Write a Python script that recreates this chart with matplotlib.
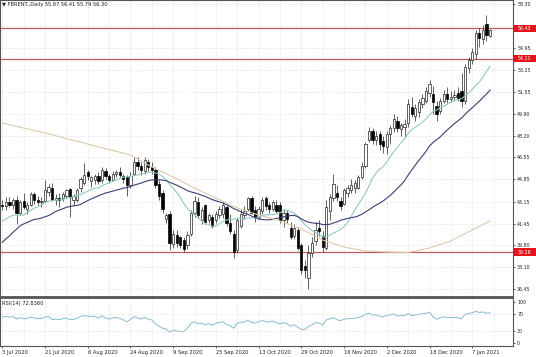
"""FBRENT daily candles with moving averages, support/resistance levels and RSI(14)."""
import matplotlib

matplotlib.use("Agg")
import matplotlib.pyplot as plt
import matplotlib.transforms as mtransforms
from matplotlib.patches import Rectangle
import numpy as np
import pandas as pd

HOLIDAYS = ["2020-12-25", "2021-01-01"]
DATES = pd.bdate_range("2020-07-03", "2021-01-14").drop(pd.to_datetime(HOLIDAYS))

# closes before the visible window, only used to warm up the indicators
WARMUP_CLOSES = [34.8, 34.7, 35.8, 36.1, 35.1, 36.2, 34.7, 35.3, 35.3, 38.3, 39.6,
                 39.8, 40.0, 42.3, 40.8, 41.2, 41.7, 38.6, 38.7, 39.7, 41.0, 40.7,
                 41.5, 42.2, 43.1, 42.6, 40.3, 41.1, 41.0, 41.7, 41.2, 42.0, 42.1]

OPEN = [
    42.9, 42.8, 43.1, 42.9, 43.3, 42.3, 43.2, 42.6, 42.9, 43.7, 43.3, 43.1, 43.2, 43.9, 44.2, 43.3, 43.4, 43.4, 43.6, 44.1, 43.3,
    43.3, 44.2, 44.6, 45.4, 44.7, 44.8, 45.1, 44.8, 45.5, 45.1, 44.8, 45.3, 45.4, 45.1, 45.0, 44.4, 45.3, 46.2, 45.9, 45.5, 46.2,
    45.8, 45.6, 44.5, 43.8, 41.8, 42.2, 39.9, 40.6, 40.4, 40.2, 39.8, 40.7, 42.3, 43.1, 41.7, 42.9, 41.7, 42.0, 41.7, 42.1, 42.2, 42.7,
    41.5, 40.7, 39.4, 41.3, 42.1, 42.6, 43.4, 42.5, 42.0, 42.4, 43.4, 42.9, 42.6, 42.9, 42.9, 41.7, 42.3, 41.1, 40.5, 41.0, 39.8, 38.2,
    37.3, 39.2, 40.1, 41.1, 40.5, 39.6, 42.4, 43.4, 43.8, 43.2, 43.0, 43.8, 44.0, 44.2, 44.2, 45.0, 45.9, 47.9, 48.6, 47.9, 48.3,
    47.8, 47.3, 48.3, 48.8, 49.3, 48.7, 48.9, 49.2, 50.4, 49.7, 50.0, 50.6, 50.9, 51.5, 51.4, 50.5, 50.1, 50.9, 51.4, 51.0, 51.2, 51.5,
    51.6, 50.9, 53.4, 54.0, 54.5, 56.1, 55.6, 56.8, 55.87,
]
HIGH = [
    43.3, 43.5, 43.5, 43.4, 43.6, 43.3, 43.8, 43.1, 43.9, 43.9, 43.6, 43.5, 44.8, 44.5, 44.6, 43.7, 43.8, 43.9, 44.1, 44.2, 43.7,
    44.2, 45.0, 46.1, 45.6, 45.1, 45.3, 45.4, 45.8, 45.7, 45.3, 45.5, 45.6, 45.8, 45.3, 45.2, 45.4, 46.6, 46.6, 46.2, 46.6, 46.4,
    46.2, 45.8, 44.8, 44.0, 42.3, 42.4, 41.0, 41.0, 40.5, 40.4, 40.9, 42.5, 43.6, 43.5, 42.7, 43.0, 42.3, 42.2, 42.4, 42.8, 43.1, 42.9,
    42.2, 41.0, 41.9, 42.6, 42.8, 43.5, 43.6, 42.8, 42.8, 43.5, 43.6, 43.1, 43.3, 43.3, 43.1, 42.6, 42.5, 41.6, 41.4, 41.2, 40.0, 38.7,
    39.8, 40.4, 41.6, 41.7, 40.9, 43.3, 43.7, 45.3, 44.4, 43.5, 44.2, 44.4, 44.9, 44.8, 45.2, 46.2, 47.7, 48.9, 48.8, 48.6, 48.6,
    48.2, 48.6, 49.0, 49.9, 49.7, 49.2, 49.5, 51.0, 51.2, 50.6, 51.0, 51.4, 51.9, 52.5, 52.0, 50.9, 51.1, 51.7, 51.9, 51.6, 51.7, 51.9,
    53.0, 53.7, 54.2, 54.9, 56.3, 56.5, 56.7, 57.45, 56.41,
]
LOW = [
    42.5, 42.5, 42.7, 42.6, 41.4, 42.1, 42.6, 42.2, 42.8, 43.0, 42.9, 42.7, 43.1, 43.6, 43.2, 42.9, 42.7, 43.2, 43.4, 42.0, 42.9,
    43.1, 43.9, 44.4, 44.8, 44.3, 44.5, 44.5, 44.6, 44.9, 44.6, 44.7, 45.0, 45.0, 44.6, 43.6, 44.2, 45.2, 45.6, 45.2, 45.3, 45.5,
    45.3, 44.2, 43.3, 42.3, 41.5, 39.4, 39.6, 39.7, 39.6, 39.3, 39.5, 40.5, 42.0, 41.9, 41.4, 41.4, 41.5, 41.1, 41.5, 41.9, 41.9, 41.3,
    40.7, 38.8, 39.2, 41.1, 41.8, 42.4, 42.2, 41.6, 41.8, 42.2, 42.5, 42.3, 42.4, 42.3, 41.5, 41.2, 41.5, 40.3, 40.3, 39.4, 37.6, 37.3,
    36.45, 38.9, 39.8, 40.5, 39.3, 39.4, 41.7, 43.2, 43.2, 42.5, 42.9, 43.5, 43.8, 43.8, 44.1, 44.9, 45.7, 47.7, 47.6, 47.5, 47.1,
    46.9, 46.8, 47.6, 48.5, 48.5, 48.2, 48.1, 48.9, 49.6, 49.3, 49.6, 50.3, 50.7, 51.2, 49.9, 49.3, 49.9, 50.7, 50.7, 50.8, 50.9, 50.9,
    50.4, 50.6, 53.0, 53.7, 54.1, 55.0, 55.2, 55.5, 55.79,
]
CLOSE = [
    42.8, 43.1, 42.9, 43.3, 42.3, 43.1, 42.7, 42.9, 43.7, 43.3, 43.1, 43.2, 44.0, 44.3, 43.3, 43.4, 43.3, 43.7, 44.0, 43.5, 43.6,
    44.0, 44.9, 45.2, 45.1, 45.0, 45.1, 44.7, 45.6, 45.1, 44.8, 45.3, 45.4, 45.2, 44.9, 44.4, 45.1, 46.2, 45.9, 45.6, 46.3, 45.8,
    45.6, 44.4, 43.6, 42.6, 42.1, 40.0, 40.7, 40.0, 39.8, 39.5, 40.6, 42.3, 43.2, 42.1, 42.5, 41.6, 42.1, 41.3, 42.2, 42.6, 42.9, 41.5,
    40.9, 39.3, 41.7, 42.2, 42.4, 43.4, 42.3, 42.0, 42.6, 43.3, 42.8, 42.6, 43.1, 42.4, 41.7, 42.3, 41.8, 40.4, 41.1, 39.6, 37.9, 37.9,
    39.2, 40.0, 41.0, 40.9, 39.7, 42.7, 43.5, 44.5, 43.5, 42.8, 44.0, 44.2, 44.4, 44.6, 45.0, 45.9, 47.6, 48.6, 47.9, 48.2, 47.6,
    47.4, 48.3, 48.8, 49.5, 48.8, 49.0, 49.1, 50.6, 49.9, 50.3, 50.8, 51.1, 51.6, 52.2, 50.8, 49.9, 50.9, 51.4, 51.0, 51.2, 51.3, 51.1,
    50.9, 53.5, 54.0, 54.6, 56.1, 55.7, 56.3, 55.9, 56.30,
]

# long moving average at a few bars
SLOW_MA_BARS = [0, 12, 24, 36, 42, 48, 54, 60, 66, 72, 78, 84, 90, 96, 102, 108, 114, 120, 126, 132, 137]
SLOW_MA_VALUES = [49.17, 48.41, 47.56, 46.72, 45.80, 45.03, 44.19, 43.42, 42.66, 42.12, 41.66,
                  41.05, 40.20, 39.66, 39.36, 39.28, 39.24, 39.59, 40.13, 40.97, 41.66]

LEVELS = [56.43, 54.11, 39.28]

PRICE_TICKS = [58.30, 56.65, 54.95, 53.25, 51.55, 49.90, 48.20, 46.55, 44.85, 43.15, 41.45, 39.80, 38.10, 36.45]
RSI_TICKS = [0, 30, 70, 100]

TITLE = "\u25bc FBRENT.,Daily 55.87 56.41 55.79 56.30"
RSI_TITLE = "RSI(14) 72.8360"

FAST_COLOR = "#93c9c3"
MID_COLOR = "#3b3f75"
SLOW_COLOR = "#dccbab"
LEVEL_COLOR = "#c45a5c"
LABEL_RED = "#e3151a"
RSI_COLOR = "#86bccd"
GRID_COLOR = "#cfcfcf"
FRAME_COLOR = "#555555"
TEXT_SIZE = 3.7
PRICE_SIZE = 3.4

W, H = 536, 357


def wilder_rsi(values, period=14):
    values = np.asarray(values, dtype=float)
    diff = np.diff(values)
    gain = np.where(diff > 0, diff, 0.0)
    loss = np.where(diff < 0, -diff, 0.0)
    avg_g = gain[:period].mean()
    avg_l = loss[:period].mean()
    out = np.full(len(values), np.nan)
    out[period] = 100 - 100 / (1 + avg_g / avg_l)
    for k in range(period + 1, len(values)):
        avg_g = (avg_g * (period - 1) + gain[k - 1]) / period
        avg_l = (avg_l * (period - 1) + loss[k - 1]) / period
        out[k] = 100 - 100 / (1 + avg_g / avg_l)
    return out


plt.rcParams["font.family"] = ["DejaVu Sans"]

o, h, l, c = (np.asarray(a, dtype=float) for a in (OPEN, HIGH, LOW, CLOSE))
n = len(c)
x = np.arange(n)

history = pd.Series(WARMUP_CLOSES + CLOSE)
skip = len(WARMUP_CLOSES)
fast_ma = history.rolling(14).mean().to_numpy()[skip:]
mid_ma = history.rolling(30).mean().to_numpy()[skip:]
rsi = wilder_rsi(history.to_numpy())[skip:]

fig = plt.figure(figsize=(W / 100, H / 100), dpi=100)
fig.patch.set_facecolor("white")
ax = fig.add_axes([0, 60 / H, 513 / W, 297 / H])
ax_rsi = fig.add_axes([0, 11 / H, 513 / W, 48 / H], sharex=ax)

# pixel layout: bar i sits at 2.3 + 3.56 * i
ax.set_xlim(-2.3 / 3.56, (513 - 2.3) / 3.56)
ax.set_ylim(35.83, 58.61)
ax_rsi.set_ylim(-7.0, 109.5)

for a in (ax, ax_rsi):
    a.set_facecolor("white")
    a.set_xticks(range(0, n, 12))
    a.set_xticks(range(6, n + 6, 12), minor=True)
    a.grid(True, which="both", axis="x", color=GRID_COLOR, lw=0.5, ls=(0, (1, 2)))
    for side in a.spines.values():
        side.set_color(FRAME_COLOR)
        side.set_linewidth(0.8)
    a.yaxis.tick_right()
    a.tick_params(axis="y", length=1.5, width=0.5, pad=1.5, colors="#222222", labelsize=PRICE_SIZE)
    a.tick_params(axis="x", which="minor", length=0)

ax.spines["bottom"].set_linewidth(1.3)
ax_rsi.spines["top"].set_linewidth(1.3)

ax.set_yticks(PRICE_TICKS)
# the 56.65 label sits under the 56.43 price tag, so it stays blank
ax.set_yticklabels(["" if abs(p - 56.65) < 1e-6 else f"{p:.2f}" for p in PRICE_TICKS])
ax.grid(True, axis="y", color=GRID_COLOR, lw=0.5, ls=(0, (1, 2)))
ax.tick_params(axis="x", which="both", bottom=False, labelbottom=False)

# support / resistance
for lv in LEVELS:
    ax.axhline(lv, color=LEVEL_COLOR, lw=0.9, zorder=2)

# candles
up = c >= o
ax.vlines(x, l, h, color="#222222", lw=0.5, zorder=3)
ax.bar(x[up], c[up] - o[up], bottom=o[up], width=0.65, color="white",
       edgecolor="#222222", linewidth=0.5, zorder=3.5)
ax.bar(x[~up], o[~up] - c[~up], bottom=c[~up], width=0.65, color="black",
       edgecolor="black", linewidth=0.5, zorder=3.5)

ax.plot(x, fast_ma, color=FAST_COLOR, lw=0.8, zorder=4)
ax.plot(x, mid_ma, color=MID_COLOR, lw=0.8, zorder=4)
ax.plot(SLOW_MA_BARS, SLOW_MA_VALUES, color=SLOW_COLOR, lw=0.8, zorder=4)

# red price tags on the right scale
tag = mtransforms.blended_transform_factory(ax.transAxes, ax.transData)
for lv in LEVELS:
    ax.add_patch(Rectangle((1.002, lv - 0.27), 0.042, 0.54, transform=tag,
                           facecolor=LABEL_RED, edgecolor="none", clip_on=False, zorder=6))
    ax.text(1.023, lv, f"{lv:.2f}", transform=tag, ha="center", va="center",
            fontsize=PRICE_SIZE, color="white", clip_on=False, zorder=7)

ax.text(0.004, 0.984, TITLE, transform=ax.transAxes, ha="left", va="center",
        fontsize=TEXT_SIZE, color="#222222")

# RSI panel
ax_rsi.plot(x, rsi, color=RSI_COLOR, lw=0.7)
for lv in (30, 70):
    ax_rsi.axhline(lv, color=GRID_COLOR, lw=0.5, ls=(0, (1, 2)))
ax_rsi.set_yticks(RSI_TICKS)
ax_rsi.set_yticklabels([str(v) for v in RSI_TICKS])
ax_rsi.text(0.004, 0.875, RSI_TITLE, transform=ax_rsi.transAxes, ha="left", va="center",
            fontsize=TEXT_SIZE, color="#222222")

date_labels = [f"{d.day} {d.strftime('%b %Y')}" for d in DATES[::12]]
ax_rsi.set_xticklabels(date_labels)
ax_rsi.tick_params(axis="x", which="major", length=1.5, width=0.5, pad=1.5,
                   labelsize=TEXT_SIZE, colors="#222222")
for lab in ax_rsi.get_xticklabels():
    lab.set_horizontalalignment("left")

fig.savefig("out.png", dpi=100, facecolor="white")
